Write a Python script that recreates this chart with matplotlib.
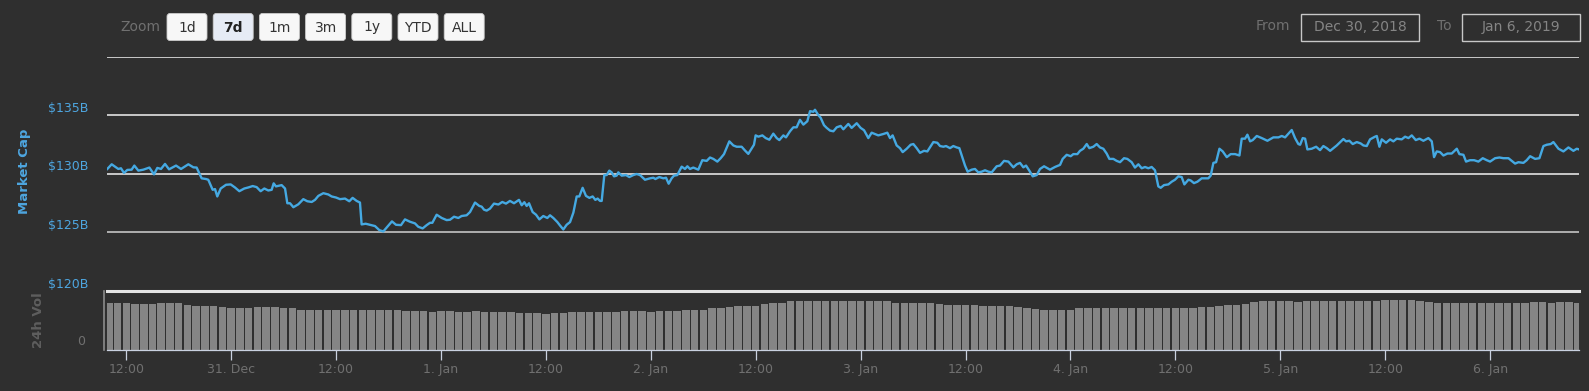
import pandas as pd
import matplotlib
matplotlib.use('Agg')
import matplotlib.pyplot as plt
from matplotlib.patches import FancyBboxPatch, Rectangle

# ---- data: market cap (hours after 2018-12-30 00:00, $B) ----
price_hours = [
    9.83, 10.33, 10.71, 11.09, 11.39, 11.74, 12.12, 12.61, 12.92, 13.38,
    13.95, 14.64, 15.17, 15.55, 15.97, 16.43, 16.89, 17.69, 18.26, 19.10,
    19.67, 20.05, 20.62, 21.12, 21.38, 21.88, 22.15, 22.41, 22.80, 23.41,
    23.94, 24.43, 24.93, 25.50, 25.96, 26.46, 26.91, 27.37, 27.79, 28.25,
    28.63, 28.86, 29.12, 29.77, 30.16, 30.42, 30.73, 31.11, 31.68, 32.25,
    32.71, 33.21, 33.59, 33.97, 34.54, 35.11, 35.49, 35.99, 36.45, 37.02,
    37.51, 37.89, 38.35, 38.73, 38.92, 39.38, 39.88, 40.45, 40.95, 41.40,
    41.86, 42.39, 42.85, 43.42, 43.88, 44.45, 45.02, 45.40, 45.90, 46.36,
    46.74, 47.01, 47.50, 48.08, 48.65, 49.03, 49.49, 49.98, 50.36, 50.93,
    51.32, 51.89,
    52.38, 52.65, 52.92, 53.22, 53.60, 54.06, 54.56, 55.01, 55.43, 55.89,
    56.35, 56.92, 57.23, 57.53, 57.80, 58.07, 58.48, 58.87, 59.25, 59.70,
    60.16, 60.47, 60.85, 61.31, 61.61, 61.99, 62.37, 62.76, 63.14, 63.52,
    63.82, 64.20, 64.58, 64.97, 65.35, 65.65, 65.92, 66.19, 66.38, 66.68,
    66.95, 67.25, 67.52, 67.79, 68.09, 68.28, 68.67, 69.16, 69.54, 70.00,
    70.38, 70.76, 71.33, 71.91, 72.29, 72.52, 72.97, 73.43, 73.74, 74.04,
    74.38, 74.65, 75.03, 75.53, 75.91, 76.18, 76.48, 76.86, 77.43, 77.89,
    78.39, 78.77, 79.15, 79.61, 79.99, 80.37, 80.98, 81.44, 81.82, 82.39,
    82.77, 83.15, 83.42, 83.80, 83.99, 84.30, 84.76, 85.14, 85.56, 86.01,
    86.40, 86.70, 87.16, 87.46, 87.92, 88.30, 88.68, 89.06, 89.45, 89.90,
    90.21, 90.59, 90.78, 91.16, 91.43, 91.81, 92.12, 92.50, 92.88, 93.26,
    93.72, 94.02,
    94.59, 94.97, 95.55, 96.00, 96.39, 96.88, 97.26, 97.64, 98.02, 98.60,
    99.05, 99.36, 99.66, 100.12, 100.50, 100.81, 101.27, 101.72, 102.03, 102.41,
    102.79, 103.25, 103.63, 104.32, 104.77, 105.08, 105.46, 105.77, 106.22, 106.60,
    106.99, 107.29, 107.67, 107.94, 108.24, 108.70, 109.08, 109.46, 109.85, 110.23,
    110.61, 110.99, 111.56, 111.94, 112.40, 112.90, 113.47, 113.85, 114.23, 114.61,
    114.92, 115.37, 115.68, 116.14, 116.52, 116.98, 117.66, 118.23, 118.81, 119.11,
    119.57, 120.03, 120.33, 120.79, 121.09, 121.47, 121.86, 122.16, 122.62, 123.00,
    123.38, 123.76, 124.14, 124.45, 124.91, 125.29, 125.67, 126.13, 126.51, 127.00,
    127.38, 127.77, 128.15, 128.53, 128.91, 129.29, 129.67, 130.05, 130.32, 130.70,
    131.20, 131.58, 131.96, 132.34, 132.72, 133.03, 133.49, 133.75, 134.13, 134.52,
    135.01, 135.39, 135.77, 136.04, 136.35,
    136.66, 137.04, 137.42, 137.88, 138.33, 138.83, 139.33, 139.59, 139.97, 140.24,
    140.55, 140.85, 141.31, 141.88, 142.53, 143.21, 143.79, 144.17, 144.55, 145.31,
    145.69, 146.07, 146.27, 146.57, 146.84, 147.10, 147.60, 148.10, 148.55, 148.93,
    149.32, 149.70, 150.46, 151.22, 151.53, 151.91, 152.29, 152.75, 153.20, 153.51,
    153.89, 154.27, 154.84, 155.04, 155.34, 155.61, 156.10, 156.56, 156.94, 157.32,
    157.89, 158.28, 158.66, 159.04, 159.50, 159.92, 160.37, 160.94, 161.33, 161.59,
    161.90, 162.28, 162.66, 163.12, 163.61, 164.19, 164.49, 164.95, 165.25, 165.71,
    166.17, 166.66, 167.16, 167.62, 168.00, 168.57, 169.07, 169.52, 170.10, 170.86,
    171.24, 171.81, 172.19, 172.58, 173.15, 173.64, 174.10, 174.48, 174.94, 175.24,
    175.82, 176.39, 176.96, 177.53, 177.91, 178.18,
]
market_cap = [
    130.43, 130.83, 130.63, 130.43, 130.49, 130.09, 130.35, 130.37, 130.72, 130.29,
    130.37, 130.55, 129.97, 130.52, 130.43, 130.86, 130.40, 130.72, 130.43, 130.83,
    130.57, 130.55, 129.63, 129.57, 129.51, 128.65, 128.71, 128.08, 128.76, 129.08,
    129.11, 128.85, 128.53, 128.76, 128.85, 128.97, 128.88, 128.53, 128.76, 128.59,
    128.65, 129.20, 128.94, 129.05, 128.76, 127.50, 127.50, 127.16, 127.41, 127.85,
    127.67, 127.61, 127.79, 128.13, 128.36, 128.25, 128.08, 127.99, 127.85, 127.90,
    127.67, 127.96, 127.70, 127.56, 125.69, 125.75, 125.66, 125.55, 125.20, 125.09,
    125.49, 125.95, 125.66, 125.63, 126.12, 125.92, 125.78, 125.49, 125.35, 125.63,
    125.83, 125.83, 126.52, 126.24, 126.06, 126.09, 126.35, 126.24, 126.41, 126.47,
    126.75, 127.56,
    127.27, 127.21, 126.95, 126.87, 127.04, 127.47, 127.39, 127.61, 127.47, 127.70,
    127.50, 127.79, 127.33, 127.59, 127.27, 127.50, 126.75, 126.52, 126.12, 126.41,
    126.24, 126.47, 126.24, 125.89, 125.60, 125.26, 125.66, 125.89, 126.70, 128.08,
    128.08, 128.82, 128.13, 127.96, 128.08, 127.79, 127.90, 127.70, 127.70, 129.91,
    129.91, 130.29, 130.14, 129.80, 129.86, 130.14, 129.86, 129.91, 129.74, 129.91,
    130.00, 129.91, 129.51, 129.63, 129.68, 129.57, 129.74, 129.63, 129.68, 129.17,
    129.63, 129.86, 129.91, 130.63, 130.43, 130.66, 130.43, 130.55, 130.37, 131.18,
    131.12, 131.41, 131.29, 131.06, 131.35, 131.70, 132.79, 132.44, 132.33, 132.33,
    132.01, 131.72, 132.04, 132.50, 133.30, 133.19, 133.30, 133.07, 132.93, 133.45,
    133.07, 132.90, 133.30, 133.13, 133.65, 133.99, 133.99, 134.63, 134.22, 134.51,
    135.37, 135.32, 135.49, 135.03, 134.80, 134.17, 133.94, 133.71, 133.65, 133.99,
    134.11, 133.82,
    134.28, 133.94, 134.34, 133.94, 133.74, 133.07, 133.53, 133.42, 133.30, 133.42,
    133.53, 133.07, 133.30, 132.44, 132.21, 131.87, 132.16, 132.50, 132.56, 132.21,
    131.81, 131.98, 131.93, 132.73, 132.67, 132.39, 132.33, 132.39, 132.21, 132.39,
    132.27, 132.21, 131.35, 130.72, 130.20, 130.37, 130.43, 130.14, 130.20, 130.32,
    130.20, 130.14, 130.66, 130.72, 131.12, 131.06, 130.57, 130.83, 130.95, 130.57,
    130.72, 130.20, 129.80, 129.91, 130.43, 130.66, 130.37, 130.60, 130.78, 131.29,
    131.64, 131.52, 131.70, 131.70, 131.98, 132.16, 132.56, 132.21, 132.33, 132.56,
    132.27, 132.16, 131.75, 131.29, 131.29, 131.12, 131.01, 131.35, 131.29, 131.01,
    130.55, 130.83, 130.49, 130.60, 130.49, 130.60, 130.32, 128.94, 128.82, 129.05,
    129.11, 129.34, 129.51, 129.80, 129.74, 129.11, 129.51, 129.45, 129.22, 129.34,
    129.63, 129.63, 129.63, 129.86, 130.95,
    131.01, 132.16, 131.93, 131.44, 131.70, 131.70, 131.58, 133.02, 133.02, 133.36,
    132.79, 132.90, 133.25, 133.07, 132.84, 133.13, 133.13, 133.25, 133.13, 133.76,
    133.07, 132.56, 132.50, 133.07, 133.02, 132.10, 132.16, 132.33, 132.04, 132.39,
    132.21, 131.98, 132.44, 132.99, 132.79, 132.84, 132.56, 132.73, 132.61, 132.44,
    132.39, 132.96, 133.19, 133.25, 132.33, 132.96, 132.67, 132.96, 132.79, 133.02,
    132.96, 133.19, 133.07, 133.30, 132.90, 133.02, 132.84, 133.07, 132.79, 131.44,
    131.93, 131.87, 131.58, 131.75, 131.75, 132.16, 131.70, 131.64, 131.06, 131.18,
    131.18, 131.06, 131.35, 131.18, 131.06, 131.35, 131.41, 131.35, 131.35, 130.89,
    131.01, 130.95, 131.18, 131.52, 131.29, 131.35, 132.39, 132.50, 132.56, 132.73,
    132.16, 131.93, 132.27, 131.98, 132.16, 132.10,
]

# ---- data: 24h volume, hourly from 2018-12-30 10:00 ($B) ----
volume = [
    19.0, 19.1, 19.0, 18.9, 18.8, 18.8, 19.2, 19.3, 19.1,
    18.2, 17.9, 17.9, 17.8, 17.6,
    17.0, 17.0, 17.1, 17.3, 17.4, 17.4, 17.2, 17.1,
    16.4, 16.3, 16.3, 16.2, 16.3, 16.3, 16.4, 16.3, 16.2, 16.3, 16.4, 16.3,
    15.8, 15.7, 15.7, 15.6, 15.7, 15.7, 15.6, 15.6, 15.7, 15.6, 15.4,
    15.3, 15.3, 15.2, 15.2, 15.1, 14.8, 15.0,
    15.2, 15.3, 15.3, 15.4, 15.5, 15.6,
    15.6, 15.7, 15.7, 15.7, 15.6, 15.7, 15.8, 16.0,
    16.3, 16.3, 16.4,
    17.0, 17.2, 17.3,
    17.8, 17.9, 18.0,
    18.9, 19.1, 19.3,
    19.8, 19.9, 19.9, 19.9, 19.9, 19.9, 19.9, 19.9, 19.8, 19.9, 19.9, 19.8,
    19.3, 19.2, 19.1, 19.1, 19.0, 18.9,
    18.4, 18.3, 18.2, 18.2, 18.1, 18.1,
    17.8, 17.7, 17.5,
    17.1, 16.8,
    16.3, 16.2, 16.3, 16.4,
    16.9, 17.0, 17.0, 17.1, 17.0, 16.9, 17.0, 17.0, 16.9, 17.0, 17.0, 17.1,
    17.1, 17.2, 17.3, 17.5,
    18.0, 18.3, 18.5, 18.8,
    19.4,
    19.9, 19.9, 19.8, 19.9, 19.7, 19.8, 19.8, 19.9, 19.8, 19.9, 19.9, 19.8, 19.9, 20.0,
    20.2, 20.3, 20.3, 20.2, 20.1,
    19.4, 19.3, 19.2, 19.3, 19.2, 19.1, 19.2, 19.1, 19.0, 19.1, 19.2, 19.3,
    19.4, 19.4, 19.3, 19.4, 19.4, 19.3,
]

price_ticks = [125, 130, 135, 140]
price_labels = ['$125B', '$130B', '$135B', '']
x_tick_labels = ['12:00', '31. Dec', '12:00', '1. Jan', '12:00', '2. Jan', '12:00',
                 '3. Jan', '12:00', '4. Jan', '12:00', '5. Jan', '12:00', '6. Jan']
buttons = ['1d', '7d', '1m', '3m', '1y', 'YTD', 'ALL']
selected = '7d'
date_from = 'Dec 30, 2018'
date_to = 'Jan 6, 2019'

assert len(price_hours) == len(market_cap)

t0 = pd.Timestamp('2018-12-30')
times = t0 + pd.to_timedelta(price_hours, unit='h')
vol_times = pd.date_range('2018-12-30 10:00', periods=len(volume), freq='h')
x_ticks = pd.date_range('2018-12-30 12:00', periods=len(x_tick_labels), freq='12h')

BG = '#2f2f2f'
LINE = '#45a9e2'
BLUE = '#4ea6e0'
GRAY = '#707070'

W, H = 1589, 391
fig = plt.figure(figsize=(W / 100, H / 100), dpi=100, facecolor=BG)

# overlay in pixel coords for the range selector / date inputs
ui = fig.add_axes([0, 0, 1, 1])
ui.set_xlim(0, W)
ui.set_ylim(H, 0)
ui.axis('off')

left, right = 106.7, 1579
ax = fig.add_axes([left / W, 1 - 291 / H, (right - left) / W, (291 - 57) / H])
axv = fig.add_axes([left / W, 1 - 350 / H, (right - left) / W, (350 - 291) / H], sharex=ax)
for a in (ax, axv):
    a.set_facecolor('none')

# price panel
for v in price_ticks:
    ax.axhline(v, color='#c4c4c4' if v == 125 else '#e2e2e2', lw=1.2, zorder=1)
ax.plot(times, market_cap, color=LINE, lw=1.7, zorder=3, solid_joinstyle='round')
ax.set_ylim(120, 140)
for s in ax.spines.values():
    s.set_visible(False)
ax.set_yticks([])
ax.tick_params(axis='x', bottom=False, labelbottom=False)
ytr = ax.get_yaxis_transform()
for v, lab in zip(price_ticks, price_labels):
    ax.annotate(lab, xy=(0, v), xycoords=ytr, xytext=(-13.5, 5.3), textcoords='offset points',
                ha='right', va='center', color=BLUE, fontsize=9)
axv.annotate('$120B', xy=(0, 1), xycoords='axes fraction', xytext=(-13.5, 5.0),
             textcoords='offset points', ha='right', va='center', color=BLUE, fontsize=9)

# volume panel
axv.bar(vol_times, volume, width=0.86 / 24, color='#858585', zorder=2)
axv.set_ylim(0, 24)
axv.set_yticks([])
axv.spines['right'].set_visible(False)
axv.spines['top'].set_color('#e4e4e4')
axv.spines['top'].set_linewidth(2.2)
axv.spines['left'].set_color('#8c8c8c')
axv.spines['left'].set_linewidth(1.2)
axv.spines['left'].set_position(('outward', 2))
axv.spines['bottom'].set_color('#c9d1e0')
axv.spines['bottom'].set_linewidth(0.9)
axv.annotate('0', xy=(0, 0), xycoords='axes fraction', xytext=(-15.5, 5.8),
             textcoords='offset points', ha='right', va='center', color=GRAY, fontsize=9)
axv.set_xticks(x_ticks)
axv.set_xticklabels(x_tick_labels)
axv.tick_params(axis='x', direction='out', length=7.2, width=0.9, color='#c9d1e0',
                labelcolor=GRAY, labelsize=9, pad=2)
axv.set_xlim(t0 + pd.Timedelta(hours=9.76), t0 + pd.Timedelta(hours=178.17))

fig.text(25 / W, 1 - 171 / H, 'Market Cap', rotation=90, ha='center', va='center',
         color=BLUE, fontsize=9.5, fontweight='bold')
fig.text(39 / W, 1 - 320 / H, '24h Vol', rotation=90, ha='center', va='center',
         color='#5e5e5e', fontsize=9.5, fontweight='bold')

# range selector
ui.text(140, 27, 'Zoom', ha='center', va='center', color=GRAY, fontsize=10)
for i, b in enumerate(buttons):
    x = 167 + i * 46.2
    on = b == selected
    ui.add_patch(FancyBboxPatch((x, 13.5), 40, 27, boxstyle='round,pad=0,rounding_size=3',
                                fc='#e6ebf5' if on else '#f7f7f7', ec='#cccccc', lw=0.6))
    ui.text(x + 20, 27.5, b, ha='center', va='center', color='#222222' if on else '#333333',
            fontsize=10, fontweight='bold' if on else 'normal')

# date inputs
ui.text(1273, 26.5, 'From', ha='center', va='center', color=GRAY, fontsize=10)
ui.add_patch(Rectangle((1301, 14), 118, 26.5, fc='none', ec='#c8c8c8', lw=1))
ui.text(1360, 27, date_from, ha='center', va='center', color='#858585', fontsize=10)
ui.text(1444, 26.5, 'To', ha='center', va='center', color=GRAY, fontsize=10)
ui.add_patch(Rectangle((1462, 14), 118, 26.5, fc='none', ec='#c8c8c8', lw=1))
ui.text(1521, 27, date_to, ha='center', va='center', color='#858585', fontsize=10)

fig.savefig('out.png', dpi=100, facecolor=BG)
